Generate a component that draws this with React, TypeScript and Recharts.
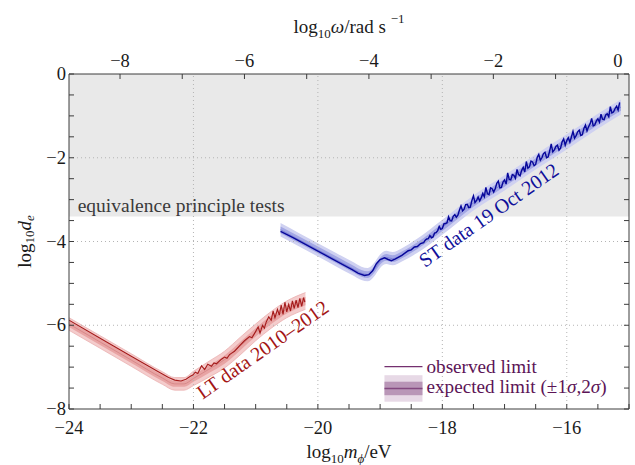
import {
  Area,
  ComposedChart,
  Line,
  ReferenceArea,
  ReferenceDot,
  ReferenceLine,
  XAxis,
  YAxis,
} from 'recharts';

const FONT = "'Liberation Serif', 'DejaVu Serif', serif";
const AXIS = '#3c3c3c';
const GRID = '#b4b4b4';

// log10(hbar / eV s) — shifts the mass axis onto the angular frequency axis
const HBAR_SHIFT = 15.18;

const massTicks = [-24, -23.5, -23, -22.5, -22, -21.5, -21, -20.5, -20, -19.5, -19, -18.5, -18, -17.5, -17, -16.5, -16, -15.5, -15];
const omegaTicks = [-8, -7, -6, -5, -4, -3, -2, -1, 0];
const couplingTicks = [-8, -7.5, -7, -6.5, -6, -5.5, -5, -4.5, -4, -3.5, -3, -2.5, -2, -1.5, -1, -0.5, 0];
const gridX = [-22, -20, -18, -16];
const gridY = [-6, -4, -2];

// equivalence principle bound on log10 d_e
const epLimit = -3.4;

// LT data 2010-2012: observed limit [log10 m, log10 d_e]
const ltObserved: [number, number][] = [
  [-24, -5.88], [-23.5, -6.31], [-23, -6.74], [-22.6, -7.08], [-22.4, -7.25], [-22.3, -7.31],
  [-22.2, -7.33], [-22.12, -7.29], [-22.05, -7.22], [-22.01, -7.19], [-21.97, -7.12], [-21.93, -7.15],
  [-21.87, -6.97], [-21.82, -7.06], [-21.77, -6.93], [-21.71, -6.98], [-21.67, -6.9], [-21.63, -6.92],
  [-21.55, -6.81], [-21.5, -6.76], [-21.46, -6.79], [-21.42, -6.7], [-21.38, -6.66], [-21.34, -6.62],
  [-21.26, -6.49], [-21.18, -6.37], [-21.1, -6.27], [-21.06, -6.3], [-21.02, -6.2], [-20.96, -6.04],
  [-20.93, -6.19], [-20.89, -6.0], [-20.86, -6.07], [-20.83, -5.92], [-20.79, -5.8], [-20.75, -5.88],
  [-20.72, -5.66], [-20.69, -5.82], [-20.65, -5.62], [-20.62, -5.76], [-20.59, -5.52], [-20.56, -5.74],
  [-20.53, -5.45], [-20.5, -5.68], [-20.47, -5.5], [-20.44, -5.66], [-20.41, -5.42], [-20.38, -5.6],
  [-20.35, -5.4], [-20.32, -5.58], [-20.29, -5.36], [-20.26, -5.55], [-20.23, -5.34], [-20.21, -5.45],
];

// LT expected limit: centre and 1 sigma / 2 sigma half widths
const ltExpX = [-24, -23.5, -23, -22.5, -22.3, -22.15, -22, -21.75, -21.5, -21.25, -21, -20.75, -20.5, -20.2];
const ltExpMid = [-5.97, -6.4, -6.83, -7.26, -7.4, -7.4, -7.27, -7.05, -6.82, -6.5, -6.17, -5.87, -5.62, -5.42];
const ltSig1 = [0.07, 0.07, 0.07, 0.07, 0.07, 0.07, 0.08, 0.09, 0.1, 0.1, 0.1, 0.1, 0.1, 0.1];
const ltSig2 = [0.15, 0.15, 0.15, 0.15, 0.15, 0.15, 0.17, 0.19, 0.2, 0.21, 0.2, 0.2, 0.2, 0.2];

// ST data 19 Oct 2012: observed limit
const stObserved: [number, number][] = [
  [-20.6, -3.76], [-20.4, -3.91], [-20.2, -4.07], [-20, -4.23], [-19.8, -4.39], [-19.6, -4.55],
  [-19.45, -4.67], [-19.35, -4.76], [-19.25, -4.81], [-19.18, -4.79], [-19.12, -4.7], [-19.06, -4.53],
  [-19, -4.43], [-18.93, -4.39], [-18.87, -4.43], [-18.82, -4.46], [-18.76, -4.42], [-18.65, -4.33],
  [-18.55, -4.22], [-18.5, -4.2], [-18.45, -4.13], [-18.4, -4.12], [-18.35, -4.05], [-18.3, -4.03],
  [-18.275, -3.97], [-18.25, -3.94], [-18.225, -3.93], [-18.2, -3.86], [-18.175, -3.91], [-18.15, -3.89],
  [-18.125, -3.8], [-18.1, -3.79], [-18.075, -3.74], [-18.05, -3.64], [-18.025, -3.71], [-18, -3.69],
  [-17.975, -3.58], [-17.95, -3.57], [-17.925, -3.55], [-17.9, -3.41], [-17.875, -3.5], [-17.85, -3.51],
  [-17.825, -3.4], [-17.8, -3.36], [-17.775, -3.42], [-17.75, -3.37], [-17.725, -3.25], [-17.7, -3.15],
  [-17.675, -3.27], [-17.65, -3.23], [-17.625, -3.12], [-17.6, -3.11], [-17.575, -3.19], [-17.55, -3.18],
  [-17.525, -3.02], [-17.5, -2.91], [-17.475, -3.07], [-17.45, -3.02], [-17.425, -2.94], [-17.4, -3.03],
  [-17.375, -2.96], [-17.35, -2.85], [-17.325, -2.93], [-17.3, -2.71], [-17.275, -2.86], [-17.25, -2.88],
  [-17.225, -2.72], [-17.2, -2.74], [-17.175, -2.82], [-17.15, -2.74], [-17.125, -2.61], [-17.1, -2.56],
  [-17.075, -2.72], [-17.05, -2.71], [-17.025, -2.58], [-17, -2.53], [-16.975, -2.63], [-16.95, -2.36],
  [-16.925, -2.52], [-16.9, -2.53], [-16.875, -2.4], [-16.85, -2.42], [-16.825, -2.49], [-16.8, -2.28],
  [-16.775, -2.4], [-16.75, -2.43], [-16.725, -2.3], [-16.7, -2.23], [-16.675, -2.34], [-16.65, -2.09],
  [-16.625, -2.25], [-16.6, -2.22], [-16.575, -2.08], [-16.55, -2.1], [-16.525, -2.19], [-16.5, -2.16],
  [-16.475, -1.99], [-16.45, -1.92], [-16.425, -2.06], [-16.4, -2.0], [-16.375, -1.9], [-16.35, -1.87],
  [-16.325, -2.0], [-16.3, -1.98], [-16.275, -1.84], [-16.25, -1.67], [-16.225, -1.86], [-16.2, -1.81],
  [-16.175, -1.73], [-16.15, -1.7], [-16.125, -1.82], [-16.1, -1.77], [-16.075, -1.62], [-16.05, -1.55],
  [-16.025, -1.7], [-16, -1.59], [-15.975, -1.52], [-15.95, -1.63], [-15.925, -1.5], [-15.9, -1.37],
  [-15.875, -1.53], [-15.85, -1.47], [-15.825, -1.38], [-15.8, -1.34], [-15.775, -1.47], [-15.75, -1.45],
  [-15.725, -1.3], [-15.7, -1.22], [-15.675, -1.36], [-15.65, -1.26], [-15.625, -1.19], [-15.6, -1.06],
  [-15.575, -1.24], [-15.55, -1.22], [-15.525, -1.12], [-15.5, -1.07], [-15.475, -1.15], [-15.45, -0.96],
  [-15.425, -1.08], [-15.4, -1.09], [-15.375, -0.98], [-15.35, -0.95], [-15.325, -1.02], [-15.3, -0.78],
  [-15.275, -0.93], [-15.25, -0.91], [-15.225, -0.83], [-15.2, -0.77], [-15.175, -0.86], [-15.15, -0.68],
];

const stExpX = [-20.6, -20.3, -20, -19.7, -19.45, -19.3, -19.2, -19.1, -19, -18.9, -18.8, -18.65, -18.4, -18, -17.5, -17, -16.5, -16, -15.5, -15.13];
const stExpMid = [-3.72, -3.96, -4.2, -4.44, -4.64, -4.76, -4.79, -4.68, -4.47, -4.38, -4.41, -4.32, -4.1, -3.66, -3.08, -2.6, -2.1, -1.62, -1.13, -0.79];
const stSig1 = [0.08, 0.08, 0.08, 0.08, 0.08, 0.08, 0.08, 0.08, 0.08, 0.08, 0.08, 0.08, 0.08, 0.09, 0.09, 0.09, 0.09, 0.09, 0.09, 0.09];
const stSig2 = [0.16, 0.16, 0.16, 0.16, 0.16, 0.16, 0.16, 0.16, 0.16, 0.16, 0.16, 0.16, 0.17, 0.18, 0.18, 0.18, 0.18, 0.18, 0.18, 0.18];

const toRows = (pts: [number, number][]) => pts.map(([x, y]) => ({ x, y }));
const toBand = (xs: number[], mid: number[], s1: number[], s2: number[]) =>
  xs.map((x, i) => ({
    x,
    mid: mid[i],
    s1: [mid[i] - s1[i], mid[i] + s1[i]],
    s2: [mid[i] - s2[i], mid[i] + s2[i]],
  }));

const ltRows = toRows(ltObserved);
const stRows = toRows(stObserved);
const ltBand = toBand(ltExpX, ltExpMid, ltSig1, ltSig2);
const stBand = toBand(stExpX, stExpMid, stSig1, stSig2);
// keeps the top and right axes attached to something
const frameRows = [
  { w: -24 + HBAR_SHIFT, d: -8 },
  { w: -15 + HBAR_SHIFT, d: 0 },
];

const fmt = (v: number) => (v < 0 ? `\u2212${Math.abs(v)}` : `${v}`);
const isEven = (v: number) => Number.isInteger(v) && v % 2 === 0;

const tickStyle = { fontFamily: FONT, fontSize: 18.5, fill: '#1a1a1a' };
const titleStyle = { fontFamily: FONT, fontSize: 19, fill: '#1a1a1a' };

function BottomTick(props: any) {
  const { x, y, payload } = props;
  return (
    <g>
      <line x1={x} x2={x} y1={y} y2={y - 5} stroke={AXIS} />
      {isEven(payload.value) && (
        <text x={x} y={y + 25} textAnchor="middle" style={tickStyle}>
          {fmt(payload.value)}
        </text>
      )}
    </g>
  );
}

function TopTick(props: any) {
  const { x, y, payload } = props;
  return (
    <g>
      <line x1={x} x2={x} y1={y} y2={y + 5} stroke={AXIS} />
      {isEven(payload.value) && (
        <text x={x} y={y - 7} textAnchor="middle" style={tickStyle}>
          {fmt(payload.value)}
        </text>
      )}
    </g>
  );
}

function LeftTick(props: any) {
  const { x, y, payload } = props;
  return (
    <g>
      <line x1={x} x2={x + 5} y1={y} y2={y} stroke={AXIS} />
      {isEven(payload.value) && (
        <text x={x - 3} y={y + 6} textAnchor="end" style={tickStyle}>
          {fmt(payload.value)}
        </text>
      )}
    </g>
  );
}

function RightTick(props: any) {
  const { x, y } = props;
  return <line x1={x} x2={x - 5} y1={y} y2={y} stroke={AXIS} />;
}

function BottomTitle(props: any) {
  const { viewBox } = props;
  const cx = viewBox.x + viewBox.width / 2;
  return (
    <text x={cx} y={viewBox.y + 49} textAnchor="middle" style={titleStyle}>
      log
      <tspan dy={5} fontSize={13}>10</tspan>
      <tspan dy={-5} fontStyle="italic">m</tspan>
      <tspan dy={5} fontSize={13} fontStyle="italic">ϕ</tspan>
      <tspan dy={-5}>/eV</tspan>
    </text>
  );
}

function TopTitle(props: any) {
  const { viewBox } = props;
  const cx = viewBox.x + viewBox.width / 2;
  return (
    <text x={cx} y={33} textAnchor="middle" style={titleStyle}>
      log
      <tspan dy={5} fontSize={13}>10</tspan>
      <tspan dy={-5} fontStyle="italic">ω</tspan>
      <tspan>/rad s </tspan>
      <tspan dy={-10} fontSize={13}>−1</tspan>
    </text>
  );
}

function LeftTitle(props: any) {
  const { viewBox } = props;
  const cx = 24;
  const cy = viewBox.y + viewBox.height / 2;
  return (
    <text x={cx} y={cy} textAnchor="middle" dominantBaseline="central" transform={`rotate(-90 ${cx} ${cy})`} style={titleStyle}>
      log
      <tspan dy={5} fontSize={13}>10</tspan>
      <tspan dy={-5} fontStyle="italic">d</tspan>
      <tspan dy={5} fontSize={13} fontStyle="italic">e</tspan>
    </text>
  );
}

function rotatedLabel(text: string, color: string) {
  return (props: any) => {
    const { cx, cy } = props;
    return (
      <text
        x={cx}
        y={cy}
        transform={`rotate(-35 ${cx} ${cy})`}
        style={{ fontFamily: FONT, fontSize: 20, fill: color }}
      >
        {text}
      </text>
    );
  };
}

function EpText(props: any) {
  const { cx, cy } = props;
  return (
    <text x={cx} y={cy} style={{ fontFamily: FONT, fontSize: 19.5, fill: '#3a3a3a' }}>
      equivalence principle tests
    </text>
  );
}

function LegendBox(props: any) {
  const { cx, cy } = props;
  const purple = '#5c1456';
  const t = { fontFamily: FONT, fontSize: 19.2, fill: purple };
  return (
    <g>
      <line x1={cx} x2={cx + 38} y1={cy} y2={cy} stroke="#74306f" strokeWidth={1.2} />
      <text x={cx + 42} y={cy + 6.5} style={t}>observed limit</text>
      <rect x={cx} y={cy + 8.5} width={38} height={26.5} fill="#e7d9e6" />
      <rect x={cx} y={cy + 15} width={38} height={13.5} fill="#b996b7" />
      <line x1={cx} x2={cx + 38} y1={cy + 21.7} y2={cy + 21.7} stroke="#83497f" strokeWidth={1.5} />
      <text x={cx + 42} y={cy + 26.6} style={t}>
        expected limit (±1<tspan fontStyle="italic">σ</tspan>,2<tspan fontStyle="italic">σ</tspan>)
      </text>
    </g>
  );
}

export default function App() {
  const ids = { xAxisId: 'bottom', yAxisId: 'left' };
  return (
    <div style={{ position: 'absolute', left: 0, top: 0, width: 635, height: 465, background: '#fff' }}>
      <ComposedChart width={635} height={465} margin={{ top: 0, right: 0, bottom: 0, left: 0 }}>
        <XAxis
          xAxisId="bottom"
          dataKey="x"
          type="number"
          domain={[-24, -15]}
          ticks={massTicks}
          interval={0}
          tickSize={0}
          tickMargin={0}
          tickLine={false}
          tick={BottomTick}
          axisLine={{ stroke: AXIS }}
          height={56}
          allowDataOverflow
          label={BottomTitle}
        />
        <XAxis
          xAxisId="top"
          orientation="top"
          dataKey="w"
          type="number"
          domain={[-24 + HBAR_SHIFT, -15 + HBAR_SHIFT]}
          ticks={omegaTicks}
          interval={0}
          tickSize={0}
          tickMargin={0}
          tickLine={false}
          tick={TopTick}
          axisLine={{ stroke: AXIS }}
          height={74}
          allowDataOverflow
          label={TopTitle}
        />
        <YAxis
          yAxisId="left"
          type="number"
          domain={[-8, 0]}
          ticks={couplingTicks}
          interval={0}
          tickSize={0}
          tickMargin={0}
          tickLine={false}
          tick={LeftTick}
          axisLine={{ stroke: AXIS }}
          width={69}
          allowDataOverflow
          label={LeftTitle}
        />
        <YAxis
          yAxisId="right"
          orientation="right"
          type="number"
          domain={[-8, 0]}
          ticks={couplingTicks}
          interval={0}
          tickSize={0}
          tickMargin={0}
          tickLine={false}
          tick={RightTick}
          axisLine={{ stroke: AXIS }}
          width={6}
          allowDataOverflow
        />

        <ReferenceArea {...ids} x1={-24} x2={-15} y1={epLimit} y2={0} fill="#e9e9e9" fillOpacity={1} stroke="none" />
        {gridX.map((v) => (
          <ReferenceLine key={`gx${v}`} {...ids} x={v} stroke={GRID} strokeDasharray="1 3" />
        ))}
        {gridY.map((v) => (
          <ReferenceLine key={`gy${v}`} {...ids} y={v} stroke={GRID} strokeDasharray="1 3" />
        ))}

        <Area {...ids} data={ltBand} dataKey="s2" type="monotone" fill="#f4cccc" fillOpacity={1} stroke="#eab0b0" strokeWidth={0.8} isAnimationActive={false} />
        <Area {...ids} data={ltBand} dataKey="s1" type="monotone" fill="#e8a4a4" fillOpacity={1} stroke="none" isAnimationActive={false} />
        <Line {...ids} data={ltBand} dataKey="mid" type="monotone" stroke="#d88a8a" strokeWidth={1} dot={false} isAnimationActive={false} />
        <Line {...ids} data={ltRows} dataKey="y" type="linear" stroke="#a51b1b" strokeWidth={1.1} dot={false} isAnimationActive={false} />

        <Area {...ids} data={stBand} dataKey="s2" type="monotone" fill="#cfd1f1" fillOpacity={1} stroke="none" isAnimationActive={false} />
        <Area {...ids} data={stBand} dataKey="s1" type="monotone" fill="#a3a7e4" fillOpacity={1} stroke="none" isAnimationActive={false} />
        <Line {...ids} data={stBand} dataKey="mid" type="monotone" stroke="#7b80d6" strokeWidth={1} dot={false} isAnimationActive={false} />
        <Line {...ids} data={stRows} dataKey="y" type="linear" stroke="#07079a" strokeWidth={1.4} dot={false} isAnimationActive={false} />

        <Line xAxisId="top" yAxisId="right" data={frameRows} dataKey="d" stroke="none" dot={false} activeDot={false} isAnimationActive={false} />

        <ReferenceDot {...ids} x={-23.86} y={-3.29} r={1} shape={EpText} />
        <ReferenceDot {...ids} x={-21.85} y={-7.78} r={1} shape={rotatedLabel('LT data 2010–2012', '#a31414')} />
        <ReferenceDot {...ids} x={-18.28} y={-4.63} r={1} shape={rotatedLabel('ST data 19 Oct 2012', '#10109a')} />
        <ReferenceDot {...ids} x={-18.93} y={-6.99} r={1} shape={LegendBox} />
      </ComposedChart>
    </div>
  );
}
